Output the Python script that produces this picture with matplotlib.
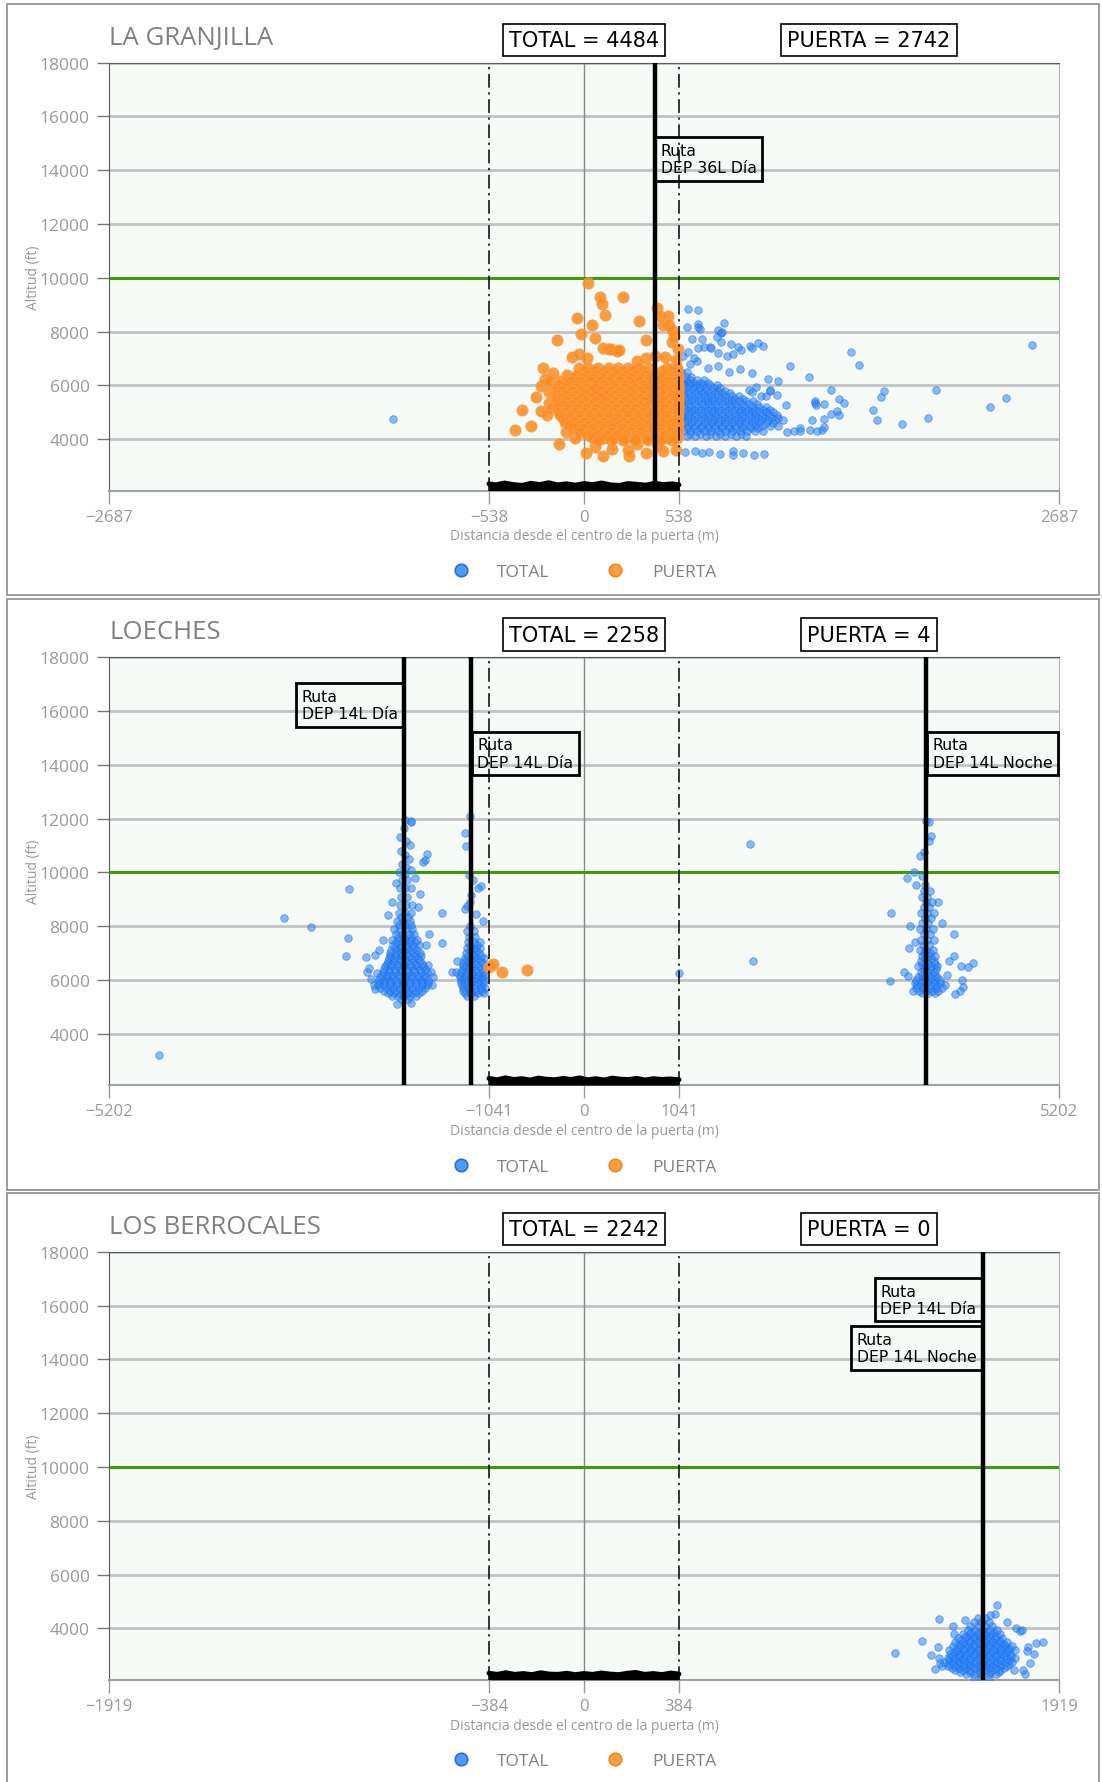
import matplotlib
matplotlib.use("Agg")
import matplotlib.pyplot as plt
import matplotlib.transforms as mtransforms
from matplotlib.patches import Rectangle
from matplotlib.lines import Line2D

plt.rcParams['font.family'] = ['Open Sans', 'DejaVu Sans']

# ---------------- LA GRANJILLA ----------------
gran_name = "LA GRANJILLA"
gran_lim = 2687
gran_gate = 538
gran_ticks = [-2687, -538, 0, 538, 2687]
gran_total_n = 4484
gran_puerta_n = 2742
gran_routes = [400]
gran_labels = [(400, 15250, "Ruta\nDEP 36L Día", "right")]

# dense part of TOTAL cloud (altitude, x positions)
gran_total_rows = [
    (6500, [550, 580]),
    (6300, [548, 575, 603]),
    (6200, [565, 600, 640, 680]),
    (6100, [552, 588, 624, 660, 700]),
    (6000, [565, 602, 640, 675, 712, 750]),
    (5900, [548, 584, 620, 656, 692, 735, 770]),
    (5800, [568, 605, 645, 685, 722, 760, 800]),
    (5700, [552, 590, 628, 666, 704, 742, 780, 825]),
    (5600, [568, 607, 645, 683, 720, 760, 798, 835, 875]),
    (5500, [548, 586, 624, 662, 700, 738, 776, 814, 855, 900]),
    (5400, [570, 608, 646, 684, 722, 760, 798, 836, 875, 915, 955]),
    (5300, [552, 590, 628, 666, 704, 742, 780, 818, 856, 894, 935, 980]),
    (5200, [568, 606, 644, 682, 720, 758, 796, 834, 872, 910, 948, 990, 1030]),
    (5100, [548, 586, 624, 662, 700, 738, 776, 814, 852, 890, 928, 966, 1010, 1050]),
    (5000, [570, 608, 646, 684, 722, 760, 798, 836, 874, 912, 950, 988, 1028, 1068]),
    (4900, [552, 590, 628, 666, 704, 742, 780, 818, 856, 894, 932, 970, 1008, 1046, 1090]),
    (4800, [568, 606, 644, 682, 720, 758, 796, 834, 872, 910, 948, 986, 1024, 1062, 1100]),
    (4700, [548, 586, 624, 662, 700, 738, 776, 814, 852, 890, 928, 966, 1004, 1042, 1080, 1125]),
    (4600, [570, 608, 646, 684, 722, 760, 798, 836, 874, 912, 950, 988, 1028, 1070]),
    (4500, [552, 590, 628, 666, 704, 742, 780, 818, 856, 894, 932, 970, 1008, 1050, 1095]),
    (4400, [580, 620, 660, 700, 740, 780, 820, 860, 900, 942, 985]),
    (4300, [560, 600, 640, 680, 720, 760, 800, 840, 880, 920, 965, 1010]),
    (4200, [600, 655, 715, 770, 830, 890]),
    (4100, [580, 630, 690, 745, 800, 860, 915]),
]
gran_total_x = [-1079, 590, 643, 643, 656, 793, 584, 643, 760, 775, 780, 754, 610, 666, 774,
                830, 870, 890, 940, 950, 985, 1010, 643, 680, 712, 720, 760, 810, 845,
                1165, 1274, 1510, 1556, 2534, 1395, 1440, 1470, 1305, 1307, 1310, 1360,
                1395, 1430, 1445, 1633, 1655, 1680, 1695, 1801, 1948, 1990, 2294, 2387,
                1280, 1290, 1320, 1345, 1355, 1360, 1150, 1190, 1220,
                571, 630, 666, 709, 769, 841, 844, 897, 962, 1018,
                600, 640, 700, 760, 820, 880, 950, 1040, 1100, 560, 590, 620,
                933, 953, 975, 1050, 1055, 1090, 1000, 1030, 1143, 1222]
gran_total_y = [4760, 8855, 8802, 8296, 8083, 8333, 8150, 8150, 8050, 7950, 8000, 7790, 7740, 7740, 7610,
                7550, 7420, 7330, 7450, 7390, 7560, 7480, 7400, 7420, 7430, 7370, 7200, 7080, 7180,
                6720, 6323, 7235, 6745, 7505, 5814, 5490, 5350, 5420, 5330, 5260, 5300,
                4950, 5050, 4880, 5095, 4708, 5560, 5800, 4580, 4800, 5814, 5200, 5530,
                4350, 4700, 4320, 4330, 4450, 4760, 4280, 4300, 4420,
                3507, 3550, 3480, 3530, 3450, 3560, 3400, 3490, 3400, 3450,
                6800, 6900, 6650, 6700, 6500, 6600, 6450, 6250, 6150, 7100, 7250, 7000,
                5820, 5740, 5920, 5800, 5830, 5650, 5620, 5620, 5280, 4300]

gran_puerta_rows = [
    (6650, [-30, 25, 80, 140, 195, 250, 310, 365, 470, 525]),
    (6525, [0, 55, 110, 165, 220, 280, 335, 440, 500]),
    (6400, [-95, -40, 15, 70, 125, 180, 235, 290, 345, 400, 455, 510, 530]),
    (6275, [-65, -10, 45, 100, 155, 210, 265, 320, 375, 430, 485, 530]),
    (6150, [-130, -75, -20, 35, 90, 145, 200, 255, 310, 365, 420, 475, 528]),
    (6025, [-140, -100, -50, 5, 60, 115, 170, 225, 280, 335, 390, 445, 500, 530]),
    (5900, [-150, -100, -45, 10, 65, 120, 175, 230, 285, 340, 395, 450, 505, 530]),
    (5775, [-150, -125, -70, -15, 40, 95, 150, 205, 260, 315, 370, 425, 480, 530]),
    (5650, [-155, -105, -50, 5, 60, 115, 170, 225, 280, 335, 390, 445, 500, 530]),
    (5525, [-150, -125, -70, -15, 40, 95, 150, 205, 260, 315, 370, 425, 480, 530]),
    (5400, [-150, -100, -45, 10, 65, 120, 175, 230, 285, 340, 395, 450, 505, 530]),
    (5275, [-148, -120, -70, -15, 40, 95, 150, 205, 260, 315, 370, 425, 480, 530]),
    (5150, [-145, -95, -40, 15, 70, 125, 180, 235, 290, 345, 400, 455, 510, 530]),
    (5025, [-140, -110, -55, 0, 55, 110, 165, 220, 275, 330, 385, 440, 495, 530]),
    (4900, [-135, -80, -25, 30, 85, 140, 195, 250, 305, 360, 415, 470, 525]),
    (4775, [-120, -80, -25, 30, 85, 140, 195, 250, 305, 360, 415, 470, 525]),
    (4650, [-110, -55, 0, 55, 110, 165, 220, 275, 330, 385, 440, 495, 530]),
    (4525, [-85, -30, 25, 80, 135, 190, 245, 300, 355, 410, 465, 525]),
    (4400, [-60, -5, 50, 105, 160, 215, 270, 325, 380, 435, 490, 530]),
    (4275, [-20, 45, 100, 155, 210, 265, 320, 375, 430, 485, 530]),
    (4150, [20, 75, 130, 185, 240, 295, 350, 405, 460, 515]),
    (4050, [50, 110, 170, 230, 290, 350, 410, 470, 525]),
    (3950, [80, 150, 220, 290, 360, 430, 500]),
]
gran_puerta_x = [24, 91, 104, 222, 119, -38, 47, 309, 411, 430, 477, 445, 480, 500, 510, 495, 530,
                 -155, -17, 62, 352, 106, 140, 155, 185, 200, -70, -30, 18, -231, -174,
                 -246, -200, -270, -353, -389, -302, -246, -141, 12, 110, 252, 353, 447, 523,
                 60, 160, 250, 300, 420, -220, -190, -200, -180, -210, 350, 400, 460, 520, 300,
                 -100, -50]
gran_puerta_y = [9821, 9300, 9014, 9300, 8616, 8518, 8244, 8381, 8890, 8578, 8578, 8250, 8250, 8050, 7850, 7600, 7350,
                 7674, 7924, 7748, 7674, 7389, 7350, 7350, 7270, 7330, 7042, 7150, 7030, 6632, 6473,
                 5974, 5750, 5570, 5081, 4336, 4485, 5030, 3804, 3497, 3370, 3370, 3497, 3560, 3600,
                 3720, 3650, 3600, 3800, 3750, 6250, 6150, 5350, 5150, 4900, 7000, 7100, 7050, 6950, 6900,
                 4250, 4050]
gran_ground_x = [-538, -500, -450, -400, -350, -300, -250, -200, -150, -100, -50, 0,
                 50, 100, 150, 200, 250, 300, 350, 400, 450, 500, 538]
gran_ground_y = [2340, 2300, 2370, 2310, 2280, 2360, 2310, 2380, 2300, 2340, 2290, 2350,
                 2310, 2370, 2300, 2280, 2350, 2320, 2290, 2360, 2310, 2340, 2300]

# ---------------- LOECHES ----------------
loe_name = "LOECHES"
loe_lim = 5202
loe_gate = 1041
loe_ticks = [-5202, -1041, 0, 1041, 5202]
loe_total_n = 2258
loe_puerta_n = 4
loe_routes = [-1970, -1240, 3750]
loe_labels = [(-1970, 17050, "Ruta\nDEP 14L Día", "left"),
              (-1240, 15250, "Ruta\nDEP 14L Día", "right"),
              (3750, 15250, "Ruta\nDEP 14L Noche", "right")]

loe_total_rows = [
    # cluster around -1970
    (5300, [-2000, -1930]),
    (5400, [-2100, -2035, -1970, -1905, -1840]),
    (5500, [-2150, -2080, -2010, -1940, -1870, -1810]),
    (5600, [-2190, -2125, -2055, -1985, -1915, -1845, -1775]),
    (5700, [-2230, -2160, -2090, -2020, -1950, -1880, -1810, -1740]),
    (5800, [-2260, -2195, -2125, -2055, -1985, -1915, -1845, -1775, -1720]),
    (5900, [-2250, -2190, -2120, -2050, -1980, -1910, -1840, -1770, -1710]),
    (6000, [-2245, -2195, -2125, -2055, -1985, -1915, -1845, -1775, -1710]),
    (6100, [-2230, -2160, -2090, -2020, -1950, -1880, -1810, -1740]),
    (6200, [-2215, -2160, -2105, -2035, -1965, -1895, -1825, -1755]),
    (6300, [-2200, -2140, -2070, -2000, -1930, -1860, -1790, -1720]),
    (6400, [-2190, -2140, -2075, -2005, -1935, -1865, -1795, -1740]),
    (6500, [-2180, -2110, -2040, -1970, -1900, -1830, -1760]),
    (6600, [-2160, -2110, -2045, -1975, -1905, -1835, -1770]),
    (6700, [-2150, -2080, -2010, -1940, -1870, -1800]),
    (6800, [-2140, -2080, -2025, -1955, -1885, -1815]),
    (6900, [-2130, -2060, -1990, -1920, -1850, -1780]),
    (7000, [-2120, -2060, -2005, -1935, -1865, -1800]),
    (7100, [-2110, -2040, -1970, -1900, -1830]),
    (7200, [-2075, -2005, -1935, -1865]),
    (7300, [-2090, -2020, -1950, -1880, -1810]),
    (7400, [-2060, -1990, -1920, -1850]),
    (7500, [-2100, -2030, -1960, -1890, -1830]),
    (7600, [-2040, -1970, -1900]),
    (7700, [-2060, -1990, -1920, -1860]),
    (7900, [-2080, -2010, -1940, -1880]),
    (8050, [-2030, -1960, -1890]),
    (8200, [-2050, -1980, -1910]),
    (8350, [-2000, -1930]),
    (8500, [-2030, -1960, -1890]),
    (8800, [-2010, -1950, -1880]),
    (9100, [-2000, -1940]),
    (9400, [-2020, -1960, -1900]),
    (9700, [-1990, -1940]),
    # cluster around -1240
    (5400, [-1280, -1210]),
    (5500, [-1300, -1235, -1165]),
    (5600, [-1320, -1250, -1180, -1120]),
    (5700, [-1330, -1260, -1190, -1125]),
    (5800, [-1340, -1270, -1200, -1130]),
    (5900, [-1345, -1305, -1235, -1165, -1110]),
    (6000, [-1350, -1280, -1210, -1140, -1090]),
    (6100, [-1355, -1315, -1245, -1175, -1115]),
    (6200, [-1360, -1290, -1220, -1150, -1100]),
    (6300, [-1345, -1295, -1225, -1155, -1105]),
    (6400, [-1330, -1260, -1190, -1120]),
    (6500, [-1325, -1290, -1220, -1150]),
    (6600, [-1320, -1250, -1180, -1110]),
    (6700, [-1310, -1265, -1195, -1130]),
    (6800, [-1300, -1230, -1160, -1100]),
    (6900, [-1265, -1195, -1130]),
    (7000, [-1290, -1220, -1150]),
    (7100, [-1250, -1180]),
    (7200, [-1280, -1210, -1140]),
    (7300, [-1245, -1175]),
    (7400, [-1270, -1200, -1140]),
    (7600, [-1260, -1190]),
    (7800, [-1280, -1210]),
    (8000, [-1250]),
    # cluster around 3750
    (5500, [3700, 3770, 3840]),
    (5600, [3670, 3740, 3810, 3880]),
    (5700, [3640, 3710, 3780, 3850, 3920]),
    (5800, [3650, 3720, 3790, 3860]),
    (5900, [3620, 3690, 3760, 3830, 3900]),
    (6000, [3640, 3700, 3770, 3840, 3900]),
    (6100, [3660, 3730, 3800, 3870]),
    (6200, [3700, 3770, 3840]),
    (6300, [3690, 3760, 3830]),
    (6400, [3720, 3790, 3850]),
    (6500, [3660, 3730, 3800, 3870]),
    (6600, [3700, 3770, 3840]),
    (6700, [3690, 3760, 3830]),
    (6800, [3730, 3800]),
    (6900, [3700, 3770, 3840]),
    (7000, [3720, 3790]),
    (7100, [3680, 3750, 3820]),
    (7300, [3710, 3780]),
    (7500, [3690, 3760, 3830]),
    (7700, [3720, 3790]),
    (7900, [3680, 3750, 3820]),
    (8100, [3700, 3770]),
    (8300, [3730, 3800]),
    (8500, [3690, 3760, 3830]),
    (8700, [3720, 3780]),
    (8900, [3740, 3810]),
    (9100, [3700, 3760]),
    (9300, [3720, 3790]),
]
loe_total_x = [-4651, -3290, -2995, -2574, -2585, -2611, -2392, -2289, -1550,
               -1717, -1740, -1760, -1703,
               -1960, -1900, -1890, -1975, -2010, -1950, -1905, -2000, -1960, -1920, -1990, -1950,
               -1890, -2030, -1960, -1850, -2060, -1800, -1820, -2100, -2150, -2200, -2250, -1730, -1700,
               -2300, -2330, -2270, -2290, -1660, -1650, -1680, -2050, -1900, -2380, -2350,
               -1252, -1306, -1292, -1260, -1220, -1130, -1160, -1240, -1250, -1280, -1300,
               -1443, -1406, -1552, -1110, -1180, -1390, -1080, -1100,
               1813, 1850, 1040,
               3748, 3778, 3800, 3778, 3719, 3682, 3609, 3540, 3640, 3700, 3730, 3366, 3565, 3353,
               4260, 4205, 4125, 4150, 4140, 4120, 4060, 4057, 4050, 4000, 3550, 3500, 3950, 3980,
               3600, 3920, 3880, 3560, 3620]
loe_total_y = [3197, 8302, 7980, 9370, 7545, 6880, 6870, 6920, 7375,
               10676, 10460, 10380, 6550,
               11950, 11880, 11920, 11650, 11300, 11150, 11000, 10800, 10650, 10500, 10300, 10200,
               10100, 10000, 9950, 9800, 9600, 9200, 8700, 8900, 8400, 7500, 7100, 7300, 7700,
               5800, 6050, 6250, 5650, 5800, 6100, 6300, 5100, 5150, 6300, 6450,
               12075, 11460, 10990, 9900, 9700, 9500, 9400, 9150, 8900, 8750, 8650,
               6310, 6310, 8487, 8200, 8450, 6700, 5700, 5500,
               11040, 6706, 6240,
               11912, 11876, 11333, 11170, 10740, 10590, 10020, 9800, 9530, 9850, 9520, 8487, 8016, 5975,
               6640, 6495, 6520, 5720, 6000, 5580, 5460, 7700, 6900, 6690, 6150, 6300, 5800, 6200,
               5600, 8100, 8900, 7200, 7400]
loe_puerta_rows = []
loe_puerta_x = [-1041, -994, -902, -622]
loe_puerta_y = [6495, 6595, 6310, 6360]
loe_ground_x = [-1041, -950, -860, -770, -680, -590, -500, -410, -320, -230, -140, -50,
                40, 130, 220, 310, 400, 490, 580, 670, 760, 850, 940, 1041]
loe_ground_y = [2340, 2290, 2360, 2300, 2330, 2280, 2350, 2310, 2290, 2340, 2300, 2360,
                2290, 2330, 2280, 2350, 2310, 2300, 2340, 2280, 2330, 2300, 2320, 2290]

# ---------------- LOS BERROCALES ----------------
ber_name = "LOS BERROCALES"
ber_lim = 1919
ber_gate = 384
ber_ticks = [-1919, -384, 0, 384, 1919]
ber_total_n = 2242
ber_puerta_n = 0
ber_routes = [1610]
ber_labels = [(1610, 17050, "Ruta\nDEP 14L Día", "left"),
              (1610, 15250, "Ruta\nDEP 14L Noche", "left")]

ber_total_rows = [
    (2150, [1575, 1605, 1635]),
    (2300, [1545, 1575, 1605, 1635, 1665]),
    (2375, [1520, 1560, 1600, 1640, 1675]),
    (2450, [1500, 1530, 1560, 1590, 1620, 1650, 1680]),
    (2525, [1485, 1515, 1545, 1575, 1605, 1635, 1665, 1695]),
    (2600, [1470, 1500, 1530, 1560, 1590, 1620, 1650, 1680, 1710]),
    (2675, [1475, 1505, 1535, 1565, 1595, 1625, 1655, 1685, 1715]),
    (2750, [1460, 1490, 1520, 1550, 1580, 1610, 1640, 1670, 1700, 1730]),
    (2825, [1475, 1505, 1535, 1565, 1595, 1625, 1655, 1685, 1715]),
    (2900, [1470, 1500, 1530, 1560, 1590, 1620, 1650, 1680, 1710, 1740]),
    (2975, [1485, 1515, 1545, 1575, 1605, 1635, 1665, 1695, 1725]),
    (3050, [1480, 1510, 1540, 1570, 1600, 1630, 1660, 1690, 1720]),
    (3125, [1495, 1525, 1555, 1585, 1615, 1645, 1675, 1705]),
    (3200, [1475, 1505, 1535, 1565, 1595, 1625, 1655, 1685, 1715, 1740]),
    (3275, [1505, 1535, 1565, 1595, 1625, 1655, 1685, 1715]),
    (3350, [1490, 1520, 1550, 1580, 1610, 1640, 1670, 1700, 1730]),
    (3425, [1515, 1545, 1575, 1605, 1635, 1665, 1695]),
    (3500, [1500, 1530, 1560, 1590, 1620, 1650, 1680, 1710]),
    (3575, [1525, 1555, 1585, 1615, 1645, 1675]),
    (3650, [1510, 1540, 1570, 1600, 1630, 1660, 1690]),
    (3725, [1545, 1575, 1605, 1635, 1665]),
    (3800, [1530, 1560, 1590, 1620, 1650, 1680]),
    (3875, [1565, 1595, 1625, 1655]),
    (3950, [1550, 1580, 1610, 1640, 1670]),
    (4100, [1560, 1590, 1620, 1650]),
    (4250, [1575, 1605, 1635]),
    (4400, [1590, 1620]),
]
ber_total_x = [1669, 1660, 1640, 1436, 1367, 1257, 1855, 1820, 1795, 1790, 1775, 1738, 1430, 1435,
               1440, 1445, 1490, 1495, 1745, 1760, 1770, 1710, 1540, 1800, 1400, 1420, 1826, 1780]
ber_total_y = [4864, 4550, 4480, 4357, 3531, 3091, 3493, 3050, 3300, 3150, 2432, 2432, 3300, 2900,
               2700, 2600, 4100, 3800, 4000, 3900, 3950, 4250, 4300, 2700, 3000, 2500, 3450, 2300]
ber_puerta_rows = []
ber_puerta_x = []
ber_puerta_y = []
ber_ground_x = [-384, -350, -315, -280, -245, -210, -175, -140, -105, -70, -35, 0,
                35, 70, 105, 140, 175, 210, 245, 280, 315, 350, 384]
ber_ground_y = [2330, 2290, 2350, 2290, 2320, 2280, 2350, 2300, 2290, 2330, 2280, 2320,
                2290, 2340, 2300, 2280, 2330, 2360, 2290, 2320, 2280, 2340, 2300]

Y_BOTTOM = 2090


def expand(rows, xs, ys):
    ox, oy = list(xs), list(ys)
    for alt, row in rows:
        for x in row:
            ox.append(x)
            oy.append(alt)
    return ox, oy


def minus(v):
    return str(v).replace("-", "\u2212")


panels = [
    (gran_name, gran_lim, gran_gate, gran_ticks, gran_total_n, gran_puerta_n, gran_routes, gran_labels,
     expand(gran_total_rows, gran_total_x, gran_total_y), expand(gran_puerta_rows, gran_puerta_x, gran_puerta_y),
     gran_ground_x, gran_ground_y),
    (loe_name, loe_lim, loe_gate, loe_ticks, loe_total_n, loe_puerta_n, loe_routes, loe_labels,
     expand(loe_total_rows, loe_total_x, loe_total_y), expand(loe_puerta_rows, loe_puerta_x, loe_puerta_y),
     loe_ground_x, loe_ground_y),
    (ber_name, ber_lim, ber_gate, ber_ticks, ber_total_n, ber_puerta_n, ber_routes, ber_labels,
     expand(ber_total_rows, ber_total_x, ber_total_y), expand(ber_puerta_rows, ber_puerta_x, ber_puerta_y),
     ber_ground_x, ber_ground_y),
]

W, H = 1102, 1783
fig = plt.figure(figsize=(W / 100, H / 100), dpi=100)

for i, (name, lim, gate, ticks, ntot, npue, routes, labels, tot, pue, gx, gy) in enumerate(panels):
    off = i * 594.6
    # panel frame
    fig.add_artist(Rectangle((7 / W, 1 - (596 + off) / H), 1092 / W, 591 / H, transform=fig.transFigure,
                             fill=False, ec="#8c8c8c", lw=1.2))
    fig.text(109 / W, 1 - (38 + off) / H, name, ha="left", va="center", fontsize=18.5, color="#808080")

    ax = fig.add_axes([109 / W, 1 - (63.5 + off + 428) / H, 950 / W, 428 / H])
    ax.set_facecolor("#f6fbf7")
    ax.set_xlim(-lim, lim)
    ax.set_ylim(Y_BOTTOM, 18000)
    ax.set_yticks(range(4000, 18001, 2000))
    ax.set_xticks(ticks)
    ax.set_xticklabels([minus(t) for t in ticks])
    ax.yaxis.grid(True, color="#c2c2c2", lw=2)
    ax.set_axisbelow(True)
    for s, c in (("top", "#5a5a5a"), ("left", "#5a5a5a"), ("right", "#b0b0b0"), ("bottom", "#a0a0a0")):
        ax.spines[s].set_color(c)
    ax.spines["bottom"].set_linewidth(1.5)
    ax.tick_params(axis="y", length=9, width=1, color="#777777", labelcolor="#999999", labelsize=12.5, pad=5)
    ax.tick_params(axis="x", length=9, width=1, color="#999999", labelcolor="#999999", labelsize=12, pad=4)

    ax.axhline(10000, color="#3f9b0b", lw=2.2, zorder=2)
    ax.axvline(0, color="#8a8a8a", lw=1, zorder=1.5)

    ax.scatter(tot[0], tot[1], s=30, c="#2b84ff", alpha=0.55, edgecolors="#1a6be0", linewidths=0.6, zorder=3)
    if len(pue[0]):
        ax.scatter(pue[0], pue[1], s=66, c="#ff8b1f", alpha=0.85, edgecolors="#f5a050", linewidths=0.6, zorder=4)

    for g in (-gate, gate):
        ax.axvline(g, color="black", lw=1.1, ls=(0, (9, 3, 1.5, 3)), zorder=5)
    for r in routes:
        ax.axvline(r, color="black", lw=3.2, zorder=6)

    ax.fill_between(gx, Y_BOTTOM, gy, color="black", lw=0, zorder=7)
    ax.plot(gx, gy, color="black", lw=3.5, solid_joinstyle="round", solid_capstyle="round", zorder=7)

    for rx, ry, txt, side in labels:
        dx = 4.5 if side == "right" else -4.5
        tr = mtransforms.offset_copy(ax.transData, fig=fig, x=dx, y=-4.5, units="points")
        ax.text(rx, ry, txt, transform=tr, ha="left" if side == "right" else "right", va="top",
                multialignment="left", fontsize=11.3, family="DejaVu Sans", zorder=10,
                bbox=dict(boxstyle="square,pad=0.35", fc="none", ec="black", lw=2))

    ytop = 1 + (63.5 - 41) / 428
    box = dict(boxstyle="square,pad=0.3", fc="white", ec="black", lw=1.2)
    ax.text(0.5, ytop, "TOTAL = %d" % ntot, transform=ax.transAxes, ha="center", va="center",
            fontsize=15, family="DejaVu Sans", bbox=box, clip_on=False)
    ax.text(0.8, ytop, "PUERTA = %d" % npue, transform=ax.transAxes, ha="center", va="center",
            fontsize=15, family="DejaVu Sans", bbox=box, clip_on=False)

    ax.text(0.5, -(537 - 491.5) / 428, "Distancia desde el centro de la puerta (m)", transform=ax.transAxes,
            ha="center", va="center", fontsize=10, color="#999999")
    ax.text(-(109 - 34) / 950, 0.5, "Altitud (ft)", transform=ax.transAxes, rotation=90,
            ha="center", va="center", fontsize=10, color="#999999")

    handles = [Line2D([], [], marker="o", ls="", markersize=9, mfc="#4d9bff", mec="#2a6fd6", mew=1.2),
               Line2D([], [], marker="o", ls="", markersize=9, mfc="#ffa040", mec="#f08a20", mew=1.2)]
    ax.legend(handles, ["TOTAL", "PUERTA"], loc="center", bbox_to_anchor=(0.5, -(573 - 491.5) / 428),
              ncol=2, frameon=False, fontsize=12.5, handlelength=1.0, handletextpad=1.6,
              columnspacing=3.3, labelcolor="#808080")

fig.savefig("out.png", dpi=100, facecolor="white")
